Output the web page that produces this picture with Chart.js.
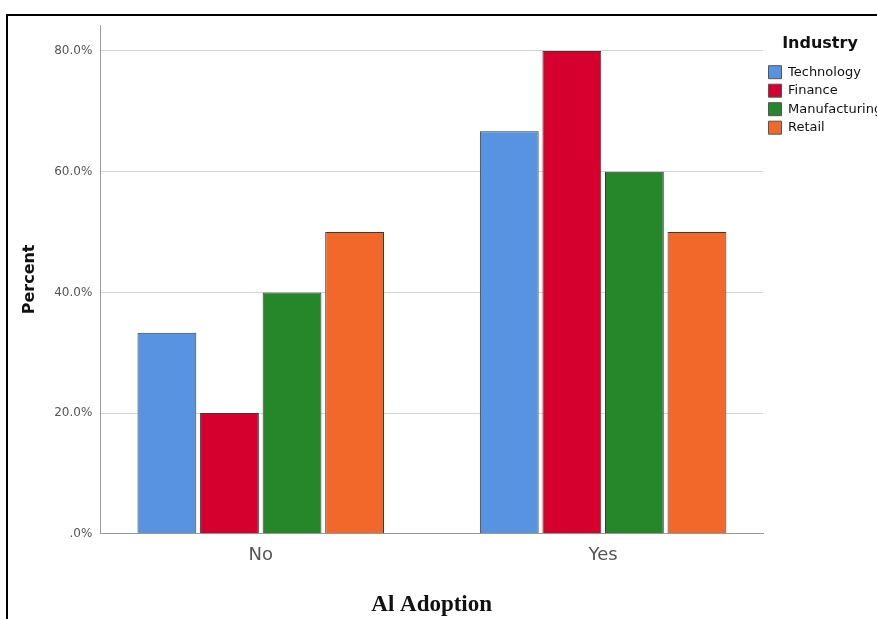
<!DOCTYPE html>
<html>
<head>
<meta charset="utf-8">
<script src="https://cdn.jsdelivr.net/npm/chart.js@4.4.1/dist/chart.umd.min.js"></script>
<style>
  html, body { margin: 0; padding: 0; background: #fff; overflow: hidden; }
  #wrap { position: relative; width: 877px; height: 619px; }
  #frame { position: absolute; left: 6px; top: 14px; width: 880px; height: 620px;
           border-top: 2px solid #000; border-left: 2px solid #000; pointer-events: none; }
  canvas { position: absolute; left: 0; top: 0; }
</style>
</head>
<body>
<div id="wrap">
  <canvas id="c" width="877" height="619"></canvas>
  <div id="frame"></div>
</div>
<script>
const categories = ["No", "Yes"];
const seriesNames = ["Technology", "Finance", "Manufacturing", "Retail"];
const technology = [33.3, 66.7];
const finance = [20.0, 80.0];
const manufacturing = [40.0, 60.0];
const retail = [50.0, 50.0];
const yTickValues = [0, 20, 40, 60, 80];
const colors = ["#5893E2", "#D5002E", "#26862A", "#F1682A"];

const seriesValues = [technology, finance, manufacturing, retail];
const SANS = "'DejaVu Sans', Verdana, sans-serif";

const chart = new Chart(document.getElementById("c"), {
  type: "bar",
  data: {
    datasets: seriesNames.map((n, i) => ({
      label: n,
      data: seriesValues[i].map((v, k) => ({ x: k, y: v })),
      backgroundColor: colors[i],
      borderColor: "#3a3a3a",
      borderWidth: 1,
      categoryPercentage: 0.731,
      barPercentage: 0.94
    }))
  },
  options: {
    responsive: false,
    animation: false,
    devicePixelRatio: 1,
    layout: { padding: { top: 25, left: 14, right: 0, bottom: 0 } },
    plugins: {
      tooltip: { enabled: false },
      legend: {
        position: "right",
        align: "start",
        maxWidth: 114,
        title: {
          display: true,
          text: "Industry",
          color: "#111",
          font: { family: SANS, size: 16, weight: "bold" },
          padding: { top: 11, bottom: 5 }
        },
        labels: {
          boxWidth: 13,
          boxHeight: 13,
          padding: 5.5,
          color: "#333",
          font: { family: SANS, size: 13 },
          generateLabels: (ch) => ch.data.datasets.map((d, i) => ({
            text: d.label,
            fillStyle: d.backgroundColor,
            strokeStyle: "#555",
            lineWidth: 1,
            hidden: false,
            datasetIndex: i
          }))
        }
      }
    },
    scales: {
      x: {
        type: "linear",
        offset: false,
        min: -0.4686,
        max: 1.467,
        afterBuildTicks: (s) => { s.ticks = categories.map((c, k) => ({ value: k })); },
        grid: { display: false, drawTicks: false, offset: false },
        border: { display: true, color: "#999", width: 1 },
        ticks: {
          color: "#555",
          padding: 11,
          font: { family: SANS, size: 18 },
          callback: (v) => categories[v]
        },
        title: {
          display: true,
          text: "Al Adoption",
          color: "#111",
          padding: { top: 14, bottom: 0 },
          font: { family: "'Liberation Serif', 'Times New Roman', serif", size: 23, weight: "bold" }
        }
      },
      y: {
        min: 0,
        max: 84.3,
        afterBuildTicks: (s) => { s.ticks = yTickValues.map(v => ({ value: v })); },
        grid: { color: "#d4d4d4", lineWidth: 1, drawTicks: false },
        border: { display: true, color: "#999", width: 1 },
        ticks: {
          color: "#555",
          padding: 8,
          font: { family: SANS, size: 12 },
          callback: (v) => (v === 0 ? ".0%" : v.toFixed(1) + "%")
        },
        title: {
          display: true,
          text: "Percent",
          color: "#111",
          padding: { top: 6, bottom: 7 },
          font: { family: SANS, size: 16, weight: "bold" }
        }
      }
    }
  }
});
</script>
</body>
</html>
